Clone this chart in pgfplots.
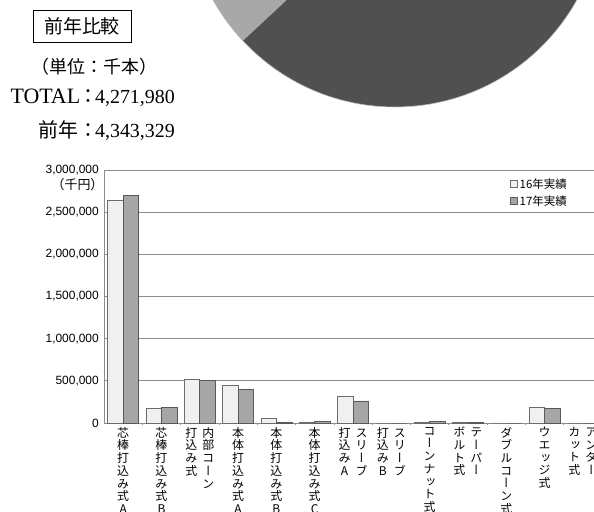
\documentclass[border=0pt]{standalone}
\usepackage{pgfplots}
\pgfplotsset{compat=1.18}
\usepackage{fontspec}
\setmainfont{Liberation Serif}
\newfontfamily\cjk{Noto Sans CJK JP}
\newfontfamily\vcjk[RawFeature=+vert]{Noto Sans CJK JP}
\newfontfamily\arialf{Liberation Sans}
\definecolor{pdark}{HTML}{505050}
\definecolor{plight}{HTML}{A8A8A8}
\definecolor{barone}{HTML}{F0F0F0}
\definecolor{bartwo}{HTML}{A6A6A6}
\definecolor{gridc}{HTML}{8C8C8C}
\newcommand{\vcol}[1]{\vtop{\baselineskip=12.7bp\lineskiplimit=-\maxdimen\let\\\cr\halign{\hfil##\hfil\cr#1\crcr}}}
\begin{document}
\begin{tikzpicture}
\useasboundingbox (0bp,0bp) rectangle (594bp,-512bp);
\clip (0bp,0bp) rectangle (594bp,-512bp);
% cropped pie (decorative, partially visible)
\fill[pdark] (395bp,101bp) circle (208bp);
\fill[plight] (395bp,101bp) -- ++(150:208bp) arc (150:223:208bp) -- cycle;
\draw[gray!50, line width=0.6bp] (395bp,101bp) circle (208bp);
% text block
\node[draw, line width=0.8bp, minimum width=98bp, minimum height=32bp, inner sep=0pt] at (82bp,-26bp) {\cjk\fontsize{19}{22}\selectfont 前年比較};
\node[anchor=base, inner sep=0pt] at (94.5bp,-73bp) {\cjk\fontsize{18}{21}\selectfont （単位：千本）};
\node[anchor=base east, inner sep=0pt] at (175bp,-103bp) {\fontsize{22}{24}\selectfont TOTAL{\cjk\fontsize{20}{24}\selectfont\hspace{-2bp}：\hspace{-3bp}}\fontsize{20}{24}\selectfont 4,271,980};
\node[anchor=base east, inner sep=0pt] at (175bp,-137bp) {{\cjk\fontsize{20}{24}\selectfont 前年：\hspace{-3bp}}\fontsize{20}{24}\selectfont 4,343,329};
\node[inner sep=0pt] at (77.5bp,-185bp) {\cjk\fontsize{13}{15}\selectfont （千円）};
\begin{axis}[
  at={(104bp,-423bp)}, anchor=south west,
  scale only axis, width=498bp, height=253bp,
  xmin=-0.5, xmax=12.5, ymin=0, ymax=3000000,
  ybar=0pt, bar width=15.5bp,
  axis x line*=bottom, axis y line*=left,
  axis line style={gridc, line width=0.8bp},
  ymajorgrids, grid style={gridc, line width=0.8bp},
  ytick={0,500000,1000000,1500000,2000000,2500000,3000000},
  scaled y ticks=false,
  major tick length=0pt,
  minor tick length=2bp,
  minor xtick={0.5,1.5,...,11.5},
  tick align=outside,
  minor tick style={gridc, line width=0.6bp},
  yticklabel style={font=\arialf\fontsize{12}{14}\selectfont, anchor=east, inner sep=0pt, xshift=-5bp,
    /pgf/number format/fixed, /pgf/number format/precision=0,
    /pgf/number format/1000 sep={,}, /pgf/number format/assume math mode=true},
  xtick={0,...,12},
  xticklabel style={font=\vcjk\fontsize{12}{12.7}\selectfont, anchor=north, inner sep=0pt, yshift=-4bp},
  xticklabels={
    {\vcol{芯\\棒\\打\\込\\み\\式\\A}},
    {\vcol{芯\\棒\\打\\込\\み\\式\\B}},
    {\vcol{打\\込\\み\\式}\hspace{5bp}\vcol{内\\部\\コ\\ー\\ン}},
    {\vcol{本\\体\\打\\込\\み\\式\\A}},
    {\vcol{本\\体\\打\\込\\み\\式\\B}},
    {\vcol{本\\体\\打\\込\\み\\式\\C}},
    {\vcol{打\\込\\み\\A}\hspace{5bp}\vcol{ス\\リ\\ー\\ブ}},
    {\vcol{打\\込\\み\\B}\hspace{5bp}\vcol{ス\\リ\\ー\\ブ}},
    {\vcol{コ\\ー\\ン\\ナ\\ッ\\ト\\式}},
    {\vcol{ボ\\ル\\ト\\式}\hspace{5bp}\vcol{テ\\ー\\パ\\ー}},
    {\vcol{ダ\\ブ\\ル\\コ\\ー\\ン\\式}},
    {\vcol{ウ\\エ\\ッ\\ジ\\式}},
    {\vcol{カ\\ッ\\ト\\式}\hspace{5bp}\vcol{ア\\ン\\ダ\\ー}}
  },
  legend style={at={(0.815,0.975)}, anchor=north west, draw=none, fill=none,
    font=\cjk\fontsize{11.5}{13}\selectfont, row sep=2bp, inner sep=0pt},
  legend cell align=left,
  legend image code/.code={\draw[#1, line width=0.6bp] (0bp,-3.5bp) rectangle (7bp,3.5bp);},
]
\addplot[fill=barone, draw=gray!85!black, line width=0.6bp] coordinates {
  (0,2635000) (1,175000) (2,518000) (3,442000) (4,56000) (5,8000) (6,312000)
  (7,0) (8,10000) (9,5000) (10,0) (11,186000) (12,0)};
\addplot[fill=bartwo, draw=gray!70!black, line width=0.6bp] coordinates {
  (0,2700000) (1,186000) (2,506000) (3,400000) (4,3000) (5,18000) (6,261000)
  (7,0) (8,18000) (9,3000) (10,0) (11,174000) (12,0)};
\legend{16年実績,17年実績}
\end{axis}
\end{tikzpicture}
\end{document}
